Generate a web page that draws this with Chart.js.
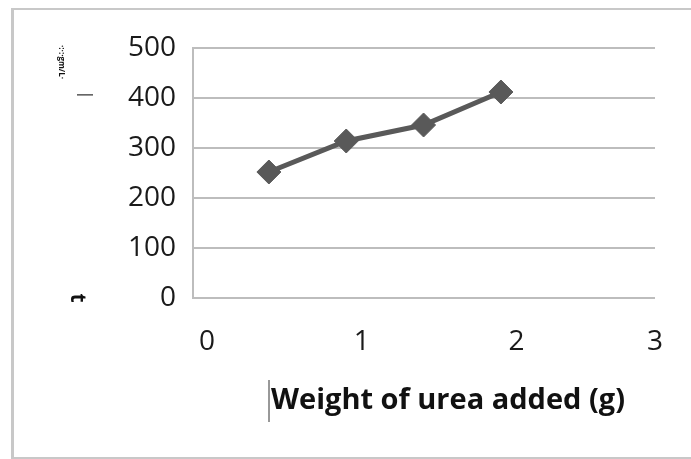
<!DOCTYPE html>
<html>
<head>
<meta charset="utf-8">
<script src="https://cdn.jsdelivr.net/npm/chart.js@4/dist/chart.umd.min.js"></script>
<style>
  html, body { margin: 0; padding: 0; background: #fff; }
  #wrap { position: relative; width: 691px; height: 459px; overflow: hidden; }
  #frame {
    position: absolute; left: 11px; top: 8px; width: 700px; height: 447px;
    border-left: 3px solid #c8c8c8; border-top: 2px solid #c8c8c8; border-bottom: 2px solid #c8c8c8;
  }
  #chart { position: absolute; left: 0; top: 0; }
</style>
</head>
<body>
<div id="wrap">
  <div id="frame"></div>
  <canvas id="chart" width="691" height="459"></canvas>
</div>
<script>
  // Values.
  const ureaWeights = [0.4, 0.9, 1.4, 1.9];
  const readings = [252, 314, 346, 412];
  const xTickLabels = ['0', '1', '2', '3'];
  const yTickValues = [0, 100, 200, 300, 400, 500];
  const xTitle = 'Weight of urea added (g)';

  const gridGrey = '#bdbdbd';
  const lineGrey = '#595959';

  // Draws the axis title and the leftover scan marks of the y title.
  const extras = {
    id: 'extras',
    afterDraw(chart) {
      const { ctx, chartArea } = chart;
      ctx.save();
      ctx.fillStyle = '#111';
      ctx.font = 'bold 29px "Open Sans"';
      ctx.textAlign = 'center';
      ctx.textBaseline = 'middle';
      const cx = (chartArea.left + chartArea.right) / 2 + 24;
      ctx.fillText(xTitle, cx, chartArea.bottom + 103);
      const w = ctx.measureText(xTitle).width;

      // text cursor before the title
      ctx.strokeStyle = '#333';
      ctx.lineWidth = 1;
      ctx.beginPath();
      ctx.moveTo(cx - w / 2 - 2, chartArea.bottom + 82);
      ctx.lineTo(cx - w / 2 - 2, chartArea.bottom + 124);
      ctx.stroke();

      // fragments of the rotated y title
      ctx.save();
      ctx.translate(77, chartArea.bottom);
      ctx.rotate(Math.PI / 2);
      ctx.font = 'bold 21px "Open Sans"';
      ctx.fillText('t', 0, 0);
      ctx.restore();
      ctx.save();
      ctx.translate(86, chartArea.top + 47);
      ctx.rotate(Math.PI / 2);
      ctx.font = '16px "Open Sans"';
      ctx.fillText('|', 0, 0);
      ctx.restore();
      ctx.save();
      ctx.translate(61, chartArea.top + 14);
      ctx.rotate(Math.PI / 2);
      ctx.font = 'bold 8px "Open Sans"';
      ctx.fillText('·:·:·gm/L·', 0, 0);
      ctx.restore();
      ctx.restore();
    },
  };

  new Chart(document.getElementById('chart'), {
    type: 'line',
    data: {
      datasets: [{
        data: ureaWeights.map((x, i) => ({ x, y: readings[i] })),
        borderColor: lineGrey,
        borderWidth: 5,
        pointStyle: 'rectRot',
        pointRadius: 12,
        pointBackgroundColor: lineGrey,
        pointBorderColor: lineGrey,
        pointBorderWidth: 1,
        tension: 0,
      }],
    },
    options: {
      responsive: false,
      animation: false,
      events: [],
      layout: { padding: { top: 48, right: 36, left: 0, bottom: 0 } },
      plugins: { legend: { display: false }, tooltip: { enabled: false } },
      scales: {
        x: {
          type: 'linear',
          min: -0.0905,
          max: 2.896,
          afterFit: (scale) => { scale.height = 161; },
          afterBuildTicks: (scale) => {
            scale.ticks = xTickLabels.map((_, i) => ({ value: i < xTickLabels.length - 1 ? i : scale.max }));
          },
          grid: { display: false, drawTicks: false },
          border: { display: false },
          ticks: {
            autoSkip: false,
            maxRotation: 0,
            padding: 27,
            color: '#1a1a1a',
            font: { family: 'Open Sans', size: 28 },
            callback: (value, index) => xTickLabels[index],
          },
        },
        y: {
          min: 0,
          max: 500,
          afterFit: (scale) => { scale.width = 193; },
          afterBuildTicks: (scale) => { scale.ticks = yTickValues.map((v) => ({ value: v })); },
          grid: { color: gridGrey, lineWidth: 2, drawTicks: false },
          border: { display: true, color: gridGrey, width: 2 },
          ticks: {
            padding: 17,
            color: '#1a1a1a',
            font: { family: 'Open Sans', size: 28 },
          },
        },
      },
    },
    plugins: [extras],
  });
</script>
</body>
</html>
